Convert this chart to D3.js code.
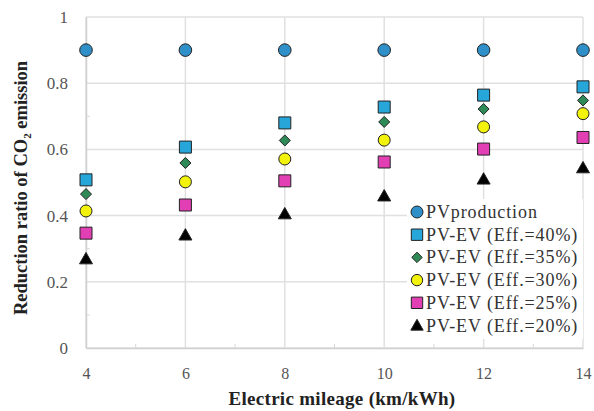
<!DOCTYPE html>
<html><head><meta charset="utf-8">
<script src="https://cdn.jsdelivr.net/npm/d3@7"></script>
<style>body{margin:0;background:#fff}svg{display:block}</style>
</head><body>
<svg id="chart" width="594" height="411"></svg>
<script>
const mileage = [4, 6, 8, 10, 12, 14];
const pvProduction = [0.90, 0.90, 0.90, 0.90, 0.90, 0.90];
const eff40 = [0.508, 0.607, 0.680, 0.728, 0.764, 0.789];
const eff35 = [0.465, 0.559, 0.627, 0.683, 0.722, 0.748];
const eff30 = [0.414, 0.502, 0.571, 0.628, 0.668, 0.708];
const eff25 = [0.347, 0.432, 0.505, 0.562, 0.601, 0.636];
const eff20 = [0.269, 0.341, 0.405, 0.459, 0.510, 0.544];
const seriesNames = ["PVproduction", "PV-EV (Eff.=40%)", "PV-EV (Eff.=35%)", "PV-EV (Eff.=30%)", "PV-EV (Eff.=25%)", "PV-EV (Eff.=20%)"];
const xTicks = [4, 6, 8, 10, 12, 14];
const yTicks = [0, 0.2, 0.4, 0.6, 0.8, 1];

const seriesStyle = [
  {shape: "circle", fill: "#2f8fc8", size: 6.3},
  {shape: "square", fill: "#27a6da", size: 6},
  {shape: "diamond", fill: "#2e8b57", size: 5.5},
  {shape: "circle", fill: "#f2f20a", size: 6},
  {shape: "square", fill: "#e23fb5", size: 6},
  {shape: "triangle", fill: "#000000", size: 6.5}
];
const allSeries = [pvProduction, eff40, eff35, eff30, eff25, eff20];

const FONT = "Liberation Serif";
const svg = d3.select("#chart");
const L = 86, R = 583, T = 17, B = 348;
const x = d3.scaleLinear().domain([4, 14]).range([L, R]);
const y = d3.scaleLinear().domain([0, 1]).range([B, T]);

// gridlines
const grid = svg.append("g");
grid.selectAll("line.h").data(yTicks).join("line")
  .attr("x1", L).attr("x2", R).attr("y1", d => y(d)).attr("y2", d => y(d))
  .attr("stroke", "#e0e0e0").attr("stroke-width", 1.5);
grid.selectAll("line.v").data(xTicks).join("line")
  .attr("y1", T).attr("y2", B).attr("x1", d => x(d)).attr("x2", d => x(d))
  .attr("stroke", "#e0e0e0").attr("stroke-width", 1.5);

// axes
const yAxis = d3.axisLeft(y).tickValues(yTicks).tickSize(0).tickPadding(18)
  .tickFormat(d => d3.format("")(d));
const gy = svg.append("g").attr("transform", `translate(${L},0)`).call(yAxis);
gy.attr("font-family", FONT).attr("font-size", 17);
gy.select(".domain").attr("stroke", "#d0d0d0").attr("stroke-width", 1.5);
gy.selectAll("text").attr("fill", "#555");

const xAxis = d3.axisBottom(x).tickValues(xTicks).tickSize(0).tickPadding(20);
const gx = svg.append("g").attr("transform", `translate(0,${B})`).call(xAxis);
gx.attr("font-family", FONT).attr("font-size", 16);
gx.select(".domain").attr("stroke", "#d0d0d0").attr("stroke-width", 1.5);
gx.selectAll("text").attr("fill", "#555");

// minor ticks
const minorY = [0.1, 0.3, 0.5, 0.7, 0.9];
svg.append("g").selectAll("line").data(minorY).join("line")
  .attr("x1", L).attr("x2", L + 4).attr("y1", d => y(d)).attr("y2", d => y(d))
  .attr("stroke", "#d8d8d8");
const minorX = [5, 7, 9, 11, 13];
svg.append("g").selectAll("line").data(minorX).join("line")
  .attr("x1", d => x(d)).attr("x2", d => x(d)).attr("y1", B).attr("y2", B - 4)
  .attr("stroke", "#d8d8d8");

function symbolPath(shape, s) {
  if (shape === "circle") return d3.symbol(d3.symbolCircle, Math.PI * s * s)();
  if (shape === "square") return d3.symbol(d3.symbolSquare, (2 * s) * (2 * s))();
  if (shape === "diamond") return `M0,${-s}L${s},0L0,${s}L${-s},0Z`;
  if (shape === "triangle") return `M0,${-s}L${s},${s * 0.75}L${-s},${s * 0.75}Z`;
}

allSeries.forEach((vals, i) => {
  const st = seriesStyle[i];
  svg.append("g").selectAll("path").data(vals).join("path")
    .attr("d", symbolPath(st.shape, st.size))
    .attr("transform", (d, j) => `translate(${x(mileage[j])},${y(d)})`)
    .attr("fill", st.fill).attr("stroke", "#222").attr("stroke-width", 1);
});

// legend
const lg = svg.append("g");
lg.append("rect").attr("x", 407).attr("y", 199).attr("width", 176).attr("height", 140).attr("fill", "#fff");
seriesNames.forEach((name, i) => {
  const st = seriesStyle[i];
  const cy = 212 + i * 22.7;
  lg.append("path").attr("d", symbolPath(st.shape, st.size * 0.95))
    .attr("transform", `translate(${417},${cy})`)
    .attr("fill", st.fill).attr("stroke", "#222").attr("stroke-width", 1);
  lg.append("text").attr("x", 426).attr("y", cy + 6).text(name)
    .attr("font-family", FONT).attr("font-size", 18).attr("letter-spacing", 0.9).attr("fill", "#333");
});

// axis titles
svg.append("text").attr("x", 342).attr("y", 405).attr("text-anchor", "middle")
  .attr("font-family", FONT).attr("font-weight", "bold").attr("font-size", 19)
  .attr("letter-spacing", 0.3)
  .attr("fill", "#222").text("Electric mileage (km/kWh)");
const yt = svg.append("text").attr("transform", `translate(27,188) rotate(-90)`)
  .attr("text-anchor", "middle")
  .attr("font-family", FONT).attr("font-weight", "bold").attr("font-size", 18.5)
  .attr("fill", "#222");
yt.append("tspan").text("Reduction ratio of CO");
yt.append("tspan").attr("font-size", 11).attr("dy", 4).text("2");
yt.append("tspan").attr("dy", -4).text(" emission");
</script>
</body></html>
